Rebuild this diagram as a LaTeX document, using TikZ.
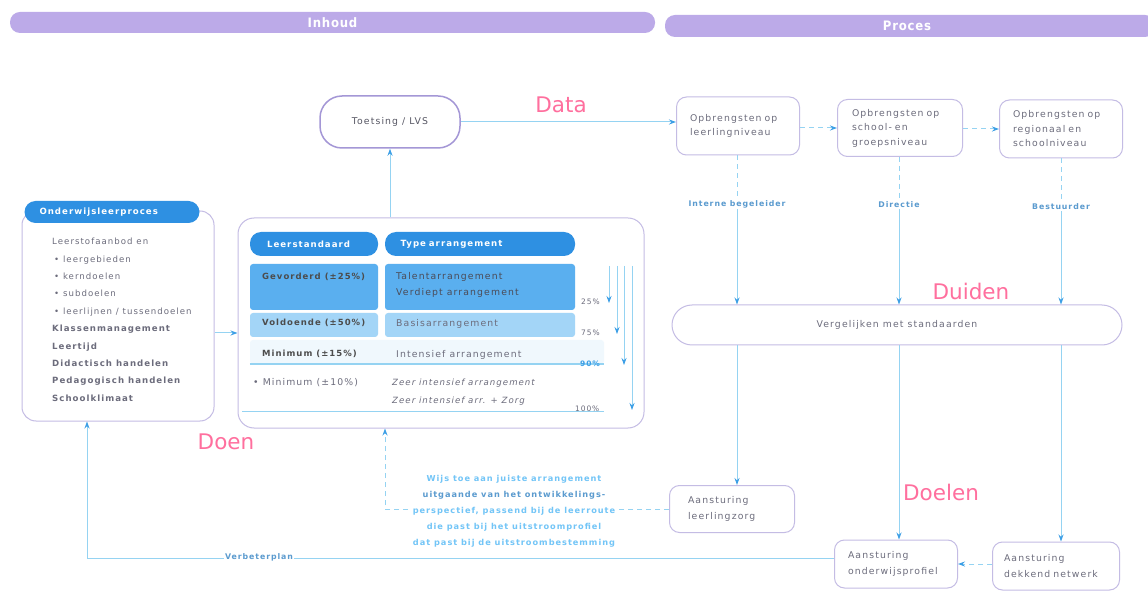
\documentclass[tikz,border=0pt]{standalone}
\usepackage{fontspec}
\setmainfont{DejaVu Sans}[LetterSpace=12]
\newfontfamily\pinkfont{DejaVu Sans}
\newfontfamily\barfont{DejaVu Sans Condensed}[LetterSpace=6]
\usetikzlibrary{arrows.meta,calc}
\definecolor{lav}{HTML}{BCAAE8}
\definecolor{lavline}{HTML}{C4BCE4}
\definecolor{lavdark}{HTML}{A497D6}
\definecolor{hdrblue}{HTML}{2E90E2}
\definecolor{rowa}{HTML}{5AAFEF}
\definecolor{rowb}{HTML}{A3D5F7}
\definecolor{rowc}{HTML}{F0F8FD}
\definecolor{conn}{HTML}{95D3F2}
\definecolor{tip}{HTML}{3D9FE6}
\definecolor{pinkc}{HTML}{FF6F9E}
\definecolor{txtgray}{HTML}{6C6C7C}
\definecolor{lblblue}{HTML}{5B9BCF}
\definecolor{fbblue}{HTML}{72C5F7}
\tikzset{
  bar/.style={fill=lav, rounded corners=10pt, text=white, font=\barfont\bfseries\fontsize{13}{14}\selectfont, inner sep=0pt},
  box/.style={draw=lavline, line width=1pt, rounded corners=10pt, fill=white, text=txtgray,
     font=\fontsize{9.3}{14.5}\selectfont, align=left, inner sep=0pt},
  hdr/.style={fill=hdrblue, rounded corners=11pt, text=white, font=\bfseries\fontsize{8.6}{10}\selectfont,
     inner sep=0pt, text width=#1, align=left},
  cell/.style={rounded corners=3pt, inner sep=0pt},
  ctext/.style={anchor=west, text=txtgray, font=\fontsize{9.3}{16}\selectfont, inner sep=0pt, align=left},
  ctextb/.style={ctext, font=\bfseries\fontsize{8.5}{16}\selectfont, text=black!70},
  pct/.style={anchor=west, text=txtgray, font=\fontsize{7.5}{8}\selectfont, inner sep=0pt},
  pinklbl/.style={text=pinkc, font=\pinkfont\fontsize{21.5}{23}\selectfont, inner sep=0pt},
  role/.style={text=lblblue, font=\bfseries\fontsize{7.8}{9}\selectfont, inner sep=1pt, fill=white},
  conn/.style={draw=conn, line width=1pt, -{Stealth[length=7pt,width=5pt,color=tip]}},
  plain/.style={draw=conn, line width=1pt},
  dsh/.style={dash pattern=on 5pt off 4pt}
}
\begin{document}
\begin{tikzpicture}[x=1pt,y=-1pt]
\useasboundingbox (0,0) rectangle (1148,593);
\fill[white] (0,0) rectangle (1148,593);

% header bars
\node[bar, minimum width=645pt, minimum height=21pt] (inhoud) at (332.5,22.5) {Inhoud};
\node[bar, minimum width=490pt, minimum height=22pt] (proces) at (910,26) {\hspace*{-6pt}Proces};

% Toetsing
\node[box, draw=lavdark, line width=1.5pt, rounded corners=22pt, minimum width=140pt, minimum height=52pt, align=center, text=txtgray!80!black] (toets) at (390,122) {Toetsing / LVS};
\node[pinklbl] (data) at (561,105) {Data};

% Opbrengsten
\node[box, minimum width=123pt, minimum height=58pt, text width=96pt] (ob1) at (738,126) {Opbrengsten op\\leerlingniveau};
\node[box, minimum width=125pt, minimum height=57pt, text width=96pt] (ob2) at (900,128) {Opbrengsten op\\school- en\\groepsniveau};
\node[box, minimum width=123pt, minimum height=58pt, text width=96pt] (ob3) at (1061,129) {Opbrengsten op\\regionaal en\\schoolniveau};

\draw[conn] (toets.east) -- (toets.east -| ob1.west);
\draw[conn, dsh] (ob1.east |- ob2.west) -- (ob2.west);
\draw[conn, dsh] (ob2.east |- ob3.west) -- (ob3.west);

% roles
\node[role] (ib) at (737,204) {Interne begeleider};
\node[role] (dir) at (899,205) {Directie};
\node[role] (best) at (1061,207) {Bestuurder};
\draw[plain, dsh] (ib |- ob1.south) -- (ib.north);
\draw[plain, dsh] (dir |- ob2.south) -- (dir.north);
\draw[plain, dsh] (best |- ob3.south) -- (best.north);

% Vergelijken
\node[box, rounded corners=20pt, minimum width=450pt, minimum height=40pt, align=center, font=\fontsize{9.3}{11}\selectfont] (verg) at (897,325) {Vergelijken met standaarden};
\node[pinklbl] (duiden) at (971,291) {Duiden};
\draw[conn] (ib.south) -- (ib |- verg.north);
\draw[conn] (dir.south) -- (dir |- verg.north);
\draw[conn] (best.south) -- (best |- verg.north);

% Aansturing
\node[box, minimum width=125pt, minimum height=47pt, text width=88pt, font=\fontsize{9.3}{16}\selectfont] (alz) at (732,509) {Aansturing\\leerlingzorg};
\node[box, minimum width=123pt, minimum height=48pt, text width=96pt, font=\fontsize{9.3}{16}\selectfont] (aop) at (896,564) {Aansturing\\onderwijsprofiel};
\node[box, minimum width=127pt, minimum height=48pt, text width=104pt, font=\fontsize{9.3}{16}\selectfont] (adn) at (1056,566) {Aansturing\\dekkend netwerk};
\node[pinklbl] (doelen) at (941,492) {Doelen};
\draw[conn] (ib |- verg.south) -- (ib |- alz.north);
\draw[conn] (dir |- verg.south) -- (dir |- aop.north);
\draw[conn] (best |- verg.south) -- (best |- adn.north);
\draw[conn, dsh] (adn.west |- aop.east) -- (aop.east);

% Onderwijsleerproces
\node[box, minimum width=192pt, minimum height=210pt, rounded corners=14pt] (olp) at (118,316) {};
\node[hdr=165pt, minimum width=175pt, minimum height=22pt] (olph) at (112,212) {\hspace*{10pt}Onderwijsleerproces};
\node[anchor=north west, inner sep=0pt, text=txtgray, align=left, font=\fontsize{8.6}{17.4}\selectfont] (olpt) at (52,238) {%
Leerstofaanbod en\\
\hspace*{2pt}\textbullet\ leergebieden\\
\hspace*{2pt}\textbullet\ kerndoelen\\
\hspace*{2pt}\textbullet\ subdoelen\\
\hspace*{2pt}\textbullet\ leerlijnen / tussendoelen\\
\textbf{Klassenmanagement}\\
\textbf{Leertijd}\\
\textbf{Didactisch handelen}\\
\textbf{Pedagogisch handelen}\\
\textbf{Schoolklimaat}};

% Table box
\node[box, draw=lavline, minimum width=406pt, minimum height=210pt, rounded corners=16pt] (tbl) at (441,323) {};
\node[hdr=110pt, minimum width=128pt, minimum height=24pt] (hL) at (314,244) {\hspace*{8pt}Leerstandaard};
\node[hdr=175pt, minimum width=190pt, minimum height=24pt] (hT) at (480,244) {\hspace*{8pt}Type arrangement};

\node[cell, fill=rowa, minimum width=128pt, minimum height=46pt] (r1l) at (314,287) {};
\node[cell, fill=rowa, minimum width=190pt, minimum height=46pt] (r1r) at (480,287) {};
\node[cell, fill=rowb, minimum width=128pt, minimum height=24pt] (r2l) at (314,325) {};
\node[cell, fill=rowb, minimum width=190pt, minimum height=24pt] (r2r) at (480,325) {};
\node[cell, fill=rowc, minimum width=354pt, minimum height=24pt] (r3) at (427,352) {};
\draw[draw=conn, line width=1.5pt] (r3.south west) -- (r3.south east);
\coordinate (r4a) at (242,411);
\coordinate (r4b) at (604,411);
\draw[draw=conn, line width=1pt] (r4a) -- (r4b);

\node[ctextb] (t1a) at (262,277) {Gevorderd (\textpm25\%)};
\node[ctext, text=txtgray!70!black] (t1b) at (396,285) {Talentarrangement\\Verdiept arrangement};
\node[ctextb] (t2a) at (262,323) {Voldoende (\textpm50\%)};
\node[ctext] (t2b) at (396,324) {Basisarrangement};
\node[ctextb] (t3a) at (262,354) {Minimum (\textpm15\%)};
\node[ctext] (t3b) at (396,355) {Intensief arrangement};
\node[ctext] (t4a) at (253,383) {\textbullet\ Minimum (\textpm10\%)};
\node[ctext, font=\itshape\fontsize{8.6}{18}\selectfont] (t4b) at (392,392) {Zeer intensief arrangement\\Zeer intensief arr. + Zorg};

\node[pct] (p25) at (581,302) {25\%};
\node[pct] (p75) at (581,333) {75\%};
\node[pct, text=tip, font=\bfseries\fontsize{7.5}{8}\selectfont] (p90) at (580,364) {90\%};
\node[pct] (p100) at (575,409) {100\%};

\coordinate (a1s) at (609,266); \coordinate (a1e) at (609,303);
\coordinate (a2s) at (617,266); \coordinate (a2e) at (617,334);
\coordinate (a3s) at (624,266); \coordinate (a3e) at (624,365);
\coordinate (a4s) at (632,266); \coordinate (a4e) at (632,410);
\draw[conn, line width=0.8pt] (a1s) -- (a1e);
\draw[conn, line width=0.8pt] (a2s) -- (a2e);
\draw[conn, line width=0.8pt] (a3s) -- (a3e);
\draw[conn, line width=0.8pt] (a4s) -- (a4e);

\draw[conn] (tbl.north -| toets) -- (toets.south);
\coordinate (oe) at ($(olp.east)+(0,17)$);
\draw[conn] (oe) -- (oe -| tbl.west);

\node[pinklbl] (doen) at (226,442) {Doen};

% feedback from leerlingzorg
\coordinate (fbc) at (385,510);
\draw[conn, dsh] (alz.west) -- (alz.west -| fbc) -- (fbc |- tbl.south);
\node[fill=white, inner sep=1pt, align=center, font=\bfseries\fontsize{8.2}{16.1}\selectfont, text=fbblue] (fb) at (514,511) {%
Wijs toe aan juiste arrangement\\
\textcolor{lblblue}{uitgaande van het ontwikkelings-}\\
perspectief, passend bij de leerroute\\
die past bij het uitstroomprofiel\\
dat past bij de uitstroombestemming};

% verbeterplan
\coordinate (vb) at (87,558);
\draw[conn] (aop.west |- vb) -- (vb) -- (vb |- olp.south);
\node[role] (vbl) at (259,557) {Verbeterplan};
\end{tikzpicture}
\end{document}
